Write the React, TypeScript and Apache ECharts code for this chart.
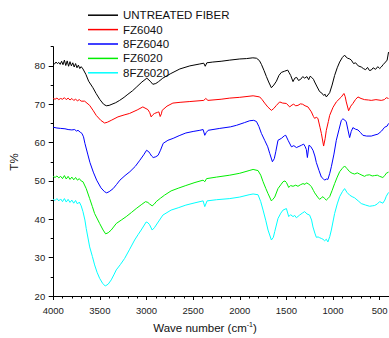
import React, { useEffect, useRef } from "react";
import * as echarts from "echarts";

// FTIR transmittance spectra: [wavenumber (cm-1), T%]
const seriesNames = ["UNTREATED FIBER", "FZ6040", "8FZ6040", "FZ6020", "8FZ6020"];
const seriesColors = ["#000000", "#ff0000", "#0000ff", "#00ee00", "#00ffff"];

const untreated: [number, number][] = [
  [4000, 80.8], [3985, 80.5], [3970, 81.0], [3955, 80.6], [3940, 80.9], [3925, 80.4], [3910, 81.2], [3895, 80.3],
  [3880, 81.5], [3865, 80.1], [3850, 81.3], [3835, 79.9], [3820, 81.1], [3805, 80.0], [3790, 80.8], [3775, 79.7],
  [3760, 80.6], [3745, 79.5], [3730, 80.2], [3715, 79.3], [3700, 79.8], [3681, 79.2], [3650, 77.8], [3620, 76.0],
  [3574, 74.3], [3540, 72.8], [3499, 71.2], [3460, 70.0], [3431, 69.6], [3400, 69.7], [3370, 70.0], [3330, 70.4],
  [3288, 71.0], [3240, 71.8], [3199, 72.6], [3150, 73.5], [3110, 74.4], [3049, 75.8], [2996, 76.8], [2960, 76.0],
  [2932, 75.2], [2900, 75.4], [2870, 75.9], [2825, 76.8], [2739, 78.0], [2642, 79.2], [2535, 80.0], [2428, 80.5],
  [2386, 80.7], [2370, 79.9], [2353, 80.8], [2289, 81.0], [2200, 81.2], [2107, 81.5], [2000, 81.8], [1928, 81.9],
  [1860, 82.1], [1821, 82.0], [1790, 81.4], [1768, 80.4], [1740, 78.8], [1714, 77.2], [1690, 75.8], [1661, 74.3],
  [1635, 75.0], [1607, 76.0], [1580, 77.5], [1554, 78.3], [1520, 78.6], [1486, 78.9], [1470, 78.2], [1454, 77.5],
  [1429, 75.9], [1410, 76.8], [1390, 77.0], [1370, 76.2], [1347, 76.5], [1325, 77.2], [1304, 76.8], [1280, 77.2],
  [1261, 76.4], [1245, 77.3], [1229, 77.0], [1210, 76.5], [1197, 75.8], [1170, 74.5], [1144, 73.3], [1120, 72.9],
  [1101, 72.3], [1085, 72.6], [1072, 71.9], [1055, 72.4], [1036, 73.0], [1010, 75.0], [983, 77.5], [955, 79.5],
  [929, 81.0], [900, 82.2], [876, 82.8], [860, 82.3], [843, 82.0], [820, 81.8], [804, 81.5], [780, 80.6],
  [758, 80.8], [730, 80.0], [697, 79.7], [675, 79.3], [651, 79.0], [630, 79.6], [610, 78.8], [590, 78.9],
  [570, 79.5], [544, 79.1], [520, 79.8], [500, 79.3], [483, 79.7], [460, 80.4], [437, 81.0], [420, 81.5], [405, 83.6],
];

const fz6040: [number, number][] = [
  [4000, 71.5], [3980, 71.3], [3960, 71.6], [3940, 71.2], [3920, 71.5], [3900, 71.3], [3880, 71.7], [3860, 71.2],
  [3840, 71.6], [3820, 71.1], [3800, 71.5], [3780, 71.0], [3760, 71.3], [3740, 70.9], [3720, 71.2], [3700, 70.8],
  [3663, 70.8], [3609, 69.7], [3570, 68.3], [3539, 67.1], [3490, 65.8], [3449, 65.1], [3420, 65.3], [3378, 65.8],
  [3306, 66.7], [3240, 67.2], [3181, 67.6], [3100, 68.5], [3039, 69.3], [2985, 68.6], [2965, 67.8], [2950, 66.7],
  [2930, 67.3], [2913, 67.6], [2880, 67.9], [2867, 68.0], [2853, 66.8], [2840, 67.5], [2832, 68.4], [2780, 69.5],
  [2717, 70.3], [2640, 70.5], [2535, 70.7], [2386, 71.0], [2364, 71.5], [2341, 71.0], [2200, 71.3], [2107, 71.6],
  [2000, 71.8], [1857, 72.2], [1786, 71.9], [1760, 71.2], [1733, 70.3], [1700, 69.3], [1661, 68.4], [1635, 68.9],
  [1607, 69.7], [1572, 70.6], [1540, 70.3], [1500, 70.2], [1465, 69.3], [1440, 69.8], [1422, 70.0], [1400, 69.6],
  [1376, 69.7], [1350, 70.1], [1326, 70.0], [1300, 69.6], [1269, 69.3], [1232, 68.0], [1210, 66.8], [1197, 66.3],
  [1180, 66.6], [1162, 66.3], [1140, 64.0], [1125, 62.4], [1101, 59.1], [1085, 61.0], [1072, 63.2], [1050, 65.5],
  [1036, 67.1], [1000, 69.2], [965, 70.6], [911, 71.9], [883, 72.8], [870, 72.0], [858, 70.6], [833, 68.3],
  [810, 69.5], [787, 70.2], [760, 71.2], [733, 71.9], [700, 71.5], [662, 71.2], [620, 71.1], [590, 71.0],
  [540, 71.2], [483, 71.0], [450, 71.2], [429, 71.7], [405, 71.5],
];

const fz6040b: [number, number][] = [
  [4000, 64.0], [3960, 63.8], [3920, 63.7], [3874, 63.6], [3840, 63.4], [3800, 63.3], [3770, 63.4], [3750, 63.0],
  [3734, 63.2], [3710, 62.7], [3692, 62.4], [3675, 61.5], [3660, 59.8], [3630, 57.0], [3606, 54.8], [3570, 52.3],
  [3534, 50.2], [3488, 48.2], [3450, 47.2], [3427, 46.9], [3400, 47.2], [3357, 48.0], [3320, 49.1], [3285, 50.2],
  [3230, 51.4], [3178, 52.4], [3120, 53.8], [3071, 55.4], [3030, 56.8], [2999, 58.0], [2975, 57.6], [2964, 57.2],
  [2945, 56.5], [2928, 56.1], [2900, 56.3], [2875, 56.7], [2850, 58.0], [2821, 59.8], [2770, 60.6], [2714, 61.1],
  [2650, 61.8], [2578, 62.5], [2500, 62.9], [2428, 63.2], [2393, 63.4], [2375, 61.9], [2360, 62.6], [2339, 63.2],
  [2214, 63.7], [2100, 64.1], [2035, 64.5], [1950, 65.2], [1893, 65.7], [1850, 65.8], [1821, 65.5], [1795, 64.2],
  [1768, 62.4], [1733, 60.6], [1700, 58.9], [1679, 57.2], [1650, 55.0], [1630, 55.8], [1614, 57.6], [1590, 60.6],
  [1554, 61.1], [1520, 61.8], [1507, 61.9], [1480, 60.5], [1446, 58.9], [1420, 59.2], [1393, 58.7], [1365, 59.0],
  [1339, 59.3], [1315, 59.6], [1300, 59.0], [1286, 58.2], [1275, 56.1], [1258, 59.3], [1240, 59.0], [1215, 58.0],
  [1195, 56.5], [1179, 54.8], [1150, 52.7], [1125, 51.0], [1105, 50.6], [1090, 50.2], [1072, 50.5], [1055, 50.4],
  [1035, 52.0], [1018, 53.7], [990, 57.0], [965, 60.6], [935, 63.5], [911, 65.8], [894, 66.2], [875, 65.9],
  [858, 65.4], [840, 63.3], [822, 61.3], [805, 62.9], [787, 63.9], [760, 63.5], [733, 63.3], [705, 62.6],
  [680, 61.9], [640, 61.7], [590, 61.7], [550, 62.0], [519, 62.2], [480, 63.0], [447, 64.0], [420, 64.3], [405, 65.0],
];

const fz6020: [number, number][] = [
  [4000, 51.2], [3980, 50.9], [3960, 51.3], [3940, 50.8], [3920, 51.2], [3900, 50.6], [3880, 51.4], [3860, 50.5],
  [3840, 51.2], [3820, 50.4], [3800, 51.0], [3780, 50.3], [3760, 50.9], [3740, 50.2], [3720, 50.6], [3700, 50.0],
  [3681, 49.8], [3646, 48.0], [3609, 45.4], [3580, 43.3], [3556, 41.5], [3502, 38.9], [3465, 37.2], [3438, 36.2],
  [3410, 36.5], [3378, 37.2], [3324, 38.9], [3270, 39.8], [3217, 40.7], [3160, 41.8], [3110, 42.8], [3050, 43.9],
  [3010, 44.6], [2985, 44.4], [2967, 44.0], [2939, 43.5], [2915, 44.0], [2896, 44.6], [2850, 45.5], [2806, 46.3],
  [2736, 47.4], [2660, 48.1], [2578, 48.8], [2480, 49.6], [2393, 50.2], [2375, 49.8], [2356, 50.6], [2250, 51.0],
  [2107, 51.5], [2000, 52.0], [1900, 52.7], [1857, 53.0], [1804, 52.7], [1775, 51.5], [1750, 49.8], [1720, 48.0],
  [1697, 46.7], [1661, 44.8], [1645, 45.2], [1625, 45.8], [1590, 48.0], [1560, 49.0], [1536, 49.8], [1515, 50.0],
  [1500, 49.6], [1475, 48.3], [1455, 48.8], [1429, 48.6], [1400, 48.9], [1376, 48.6], [1350, 49.0], [1322, 49.3],
  [1300, 49.1], [1286, 49.5], [1260, 49.2], [1232, 48.5], [1210, 47.5], [1197, 46.9], [1165, 45.8], [1144, 45.2],
  [1125, 45.6], [1108, 45.9], [1090, 45.4], [1072, 45.0], [1055, 45.4], [1036, 45.9], [1010, 47.5], [983, 49.3],
  [955, 51.0], [929, 52.4], [900, 53.3], [876, 53.9], [850, 53.2], [822, 52.4], [795, 52.0], [769, 51.8],
  [740, 52.1], [715, 51.8], [690, 51.5], [662, 51.2], [640, 51.5], [608, 51.6], [580, 51.3], [554, 51.4],
  [525, 51.5], [501, 51.2], [466, 50.9], [445, 51.4], [429, 52.0], [405, 52.3],
];

const fz6020b: [number, number][] = [
  [4000, 45.2], [3980, 44.9], [3960, 45.4], [3940, 44.8], [3920, 45.3], [3900, 44.6], [3880, 45.4], [3860, 44.5],
  [3840, 45.2], [3820, 44.4], [3800, 45.0], [3780, 44.2], [3760, 44.9], [3740, 44.0], [3720, 44.5], [3700, 43.5],
  [3681, 42.0], [3660, 39.8], [3646, 37.6], [3609, 32.8], [3580, 30.3], [3556, 28.1], [3530, 26.2], [3502, 24.6],
  [3470, 23.3], [3442, 22.6], [3410, 23.1], [3378, 24.2], [3350, 25.5], [3324, 26.8], [3280, 28.2], [3234, 29.8],
  [3180, 32.2], [3127, 34.6], [3090, 36.0], [3057, 37.2], [3003, 39.3], [2985, 39.1], [2967, 38.6], [2939, 37.2],
  [2915, 37.8], [2896, 38.5], [2860, 39.8], [2824, 41.1], [2736, 42.4], [2660, 43.0], [2578, 43.7], [2480, 44.3],
  [2393, 44.8], [2375, 43.3], [2350, 44.8], [2250, 45.1], [2107, 45.4], [2000, 45.8], [1900, 46.4], [1857, 46.6],
  [1804, 46.4], [1775, 44.6], [1750, 42.4], [1720, 39.6], [1697, 37.2], [1661, 34.6], [1640, 35.3], [1625, 36.8],
  [1590, 40.2], [1560, 41.6], [1536, 42.4], [1500, 42.8], [1475, 40.7], [1455, 41.2], [1429, 40.7], [1410, 41.0],
  [1393, 40.4], [1358, 41.1], [1330, 41.6], [1304, 42.0], [1280, 41.4], [1251, 41.1], [1230, 39.8], [1215, 38.0],
  [1195, 36.4], [1179, 35.3], [1160, 35.4], [1144, 35.2], [1125, 35.0], [1108, 34.8], [1090, 34.4], [1072, 34.8],
  [1055, 34.1], [1035, 35.5], [1018, 37.2], [983, 41.5], [955, 44.0], [929, 45.9], [900, 47.2], [876, 48.0],
  [850, 47.0], [822, 46.3], [795, 45.9], [769, 45.6], [730, 44.8], [697, 44.1], [650, 43.7], [608, 43.4],
  [580, 43.5], [554, 43.6], [525, 44.0], [501, 44.6], [466, 44.2], [445, 45.0], [429, 46.0], [405, 47.0],
];

const spectra = [untreated, fz6040, fz6040b, fz6020, fz6020b];

const xTickValues = [500, 1000, 1500, 2000, 2500, 3000, 3500, 4000];
const yTickValues = [20, 30, 40, 50, 60, 70, 80];

const FONT = "Liberation Sans, Arial, sans-serif";

export default function App() {
  const ref = useRef<HTMLDivElement>(null);

  useEffect(() => {
    if (!ref.current) return;
    const chart = echarts.init(ref.current, undefined, { renderer: "svg" });

    const axisLineStyle = { color: "#000", width: 1 };
    const labelStyle = { color: "#222", fontSize: 9.5, fontFamily: FONT };

    chart.setOption({
      animation: false,
      backgroundColor: "#fff",
      grid: { left: 53.2, right: 0, top: 46.7, bottom: 42, outerBoundsMode: "none", containLabel: false },
      legend: {
        orient: "vertical",
        left: 88,
        top: 8,
        padding: 0,
        icon: "rect",
        itemWidth: 30,
        itemHeight: 1.5,
        itemGap: 0,
        data: seriesNames,
        textStyle: { fontSize: 11.5, fontFamily: FONT, color: "#111", lineHeight: 14.4 },
      },
      xAxis: [
        {
          type: "value",
          min: 400,
          max: 4000,
          inverse: true,
          splitLine: { show: false },
          axisLine: { show: true, lineStyle: axisLineStyle },
          axisTick: { show: true, inside: false, length: 4, customValues: xTickValues, lineStyle: axisLineStyle },
          axisLabel: { ...labelStyle, margin: 9, customValues: xTickValues, formatter: (v: number) => String(v) },
        },
        {
          type: "value",
          min: 400,
          max: 4000,
          interval: 100,
          inverse: true,
          position: "bottom",
          splitLine: { show: false },
          axisLine: { show: false },
          axisTick: { show: true, inside: false, length: 2.5, lineStyle: axisLineStyle },
          axisLabel: { show: false },
        },
      ],
      yAxis: [
        {
          type: "value",
          min: 20,
          max: 85,
          splitLine: { show: false },
          axisLine: { show: true, lineStyle: axisLineStyle },
          axisTick: { show: true, inside: false, length: 4.5, customValues: yTickValues, lineStyle: axisLineStyle },
          axisLabel: { ...labelStyle, margin: 8, customValues: yTickValues, formatter: (v: number) => String(v) },
        },
        {
          type: "value",
          min: 20,
          max: 85,
          interval: 5,
          position: "left",
          splitLine: { show: false },
          axisLine: { show: false },
          axisTick: { show: true, inside: false, length: 2.5, lineStyle: axisLineStyle },
          axisLabel: { show: false },
        },
      ],
      series: spectra.map((data, i) => ({
        name: seriesNames[i],
        type: "line",
        xAxisIndex: 0,
        yAxisIndex: 0,
        data,
        showSymbol: false,
        symbol: "none",
        color: seriesColors[i],
        lineStyle: { width: 1, color: seriesColors[i] },
        z: 2 + (4 - i),
      })),
      graphic: [
        {
          type: "text",
          x: 14,
          y: 162,
          rotation: Math.PI / 2,
          style: {
            text: "T%",
            fontSize: 11.5,
            fontFamily: FONT,
            fill: "#111",
            align: "center",
            verticalAlign: "middle",
          },
        },
        {
          type: "text",
          x: 205,
          y: 328,
          style: {
            text: "{a|Wave number (cm}{s|-1}{a|)}",
            align: "center",
            verticalAlign: "middle",
            rich: {
              a: { fontSize: 11.5, fontFamily: FONT, fill: "#111", color: "#111" },
              s: { fontSize: 7, fontFamily: FONT, fill: "#111", color: "#111", padding: [0, 0, 7, 0] },
            },
          },
        },
      ],
    });

    return () => chart.dispose();
  }, []);

  return (
    <div
      ref={ref}
      style={{ position: "absolute", left: 0, top: 0, width: 389, height: 338 }}
    />
  );
}
